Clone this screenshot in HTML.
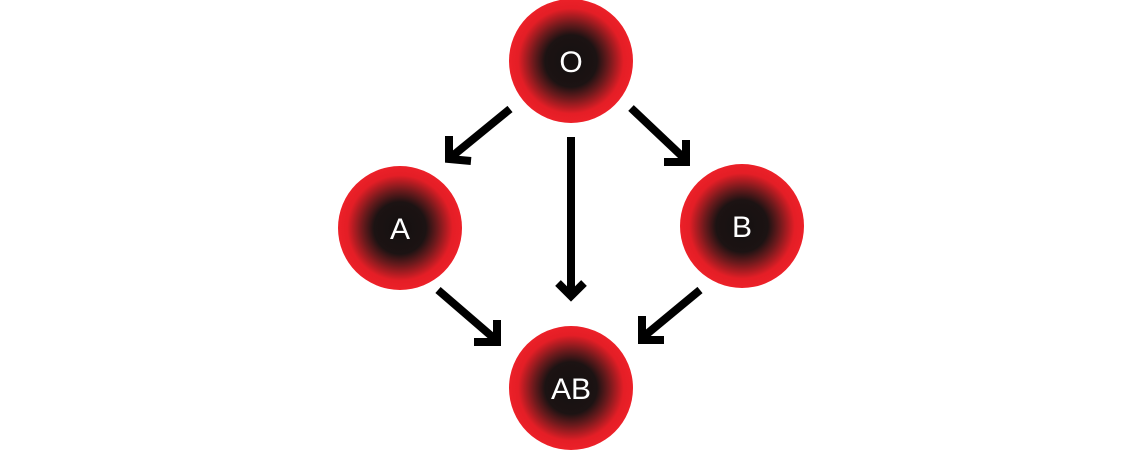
<!DOCTYPE html>
<html><head><style>body{margin:0;background:#fff}</style></head><body>
<svg width="1140" height="450" xmlns="http://www.w3.org/2000/svg">
<defs>
<radialGradient id="g"><stop offset="0" stop-color="#141010"/><stop offset="0.42" stop-color="#1c1313"/><stop offset="0.6" stop-color="#6a1a1c"/><stop offset="0.85" stop-color="#e41e26"/><stop offset="1" stop-color="#ec2028"/></radialGradient>
</defs>
<g fill="url(#g)">
<circle cx="571" cy="61" r="62"/>
<circle cx="400" cy="228" r="62"/>
<circle cx="742" cy="226" r="62"/>
<circle cx="571" cy="388" r="62"/>
</g>
<g fill="#fff" font-family="Liberation Sans, sans-serif" font-size="30" text-anchor="middle">
<text x="571" y="72">O</text>
<text x="400" y="239">A</text>
<text x="742" y="237">B</text>
<text x="571" y="399">AB</text>
</g>
<g stroke="#000" stroke-width="8" fill="none" stroke-linecap="butt">
<line x1="510" y1="109" x2="450" y2="158"/><polyline points="449,136 449,159 471,161"/>
<line x1="631" y1="108" x2="686" y2="160"/><polyline points="686,140 686,162 664,162"/>
<line x1="571" y1="137" x2="571" y2="295"/><polyline points="558,283 571,296 584,283"/>
<line x1="438" y1="290" x2="496" y2="340"/><polyline points="474,342 497,342 497,320"/>
<line x1="700" y1="290" x2="642" y2="338"/><polyline points="642,316 642,340 664,340"/>
</g>
</svg>
</body></html>
